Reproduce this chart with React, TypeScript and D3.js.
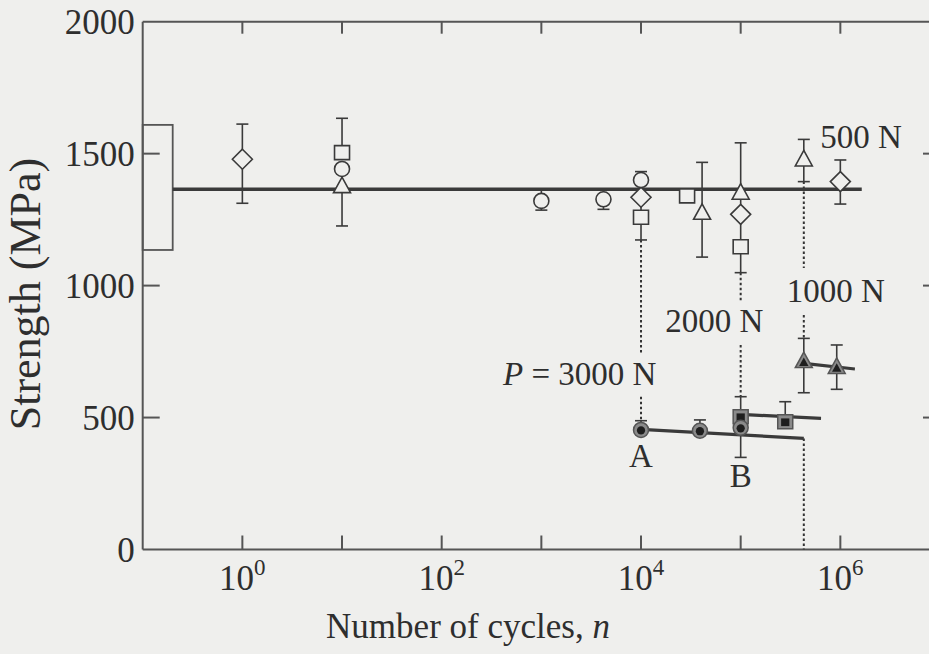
import React from "react";
import * as d3 from "d3";

// ---- data ----
const xTickExps = [0, 1, 2, 3, 4, 5, 6];
const xLabelExps = [0, 2, 4, 6];
const yTicks = [0, 500, 1000, 1500, 2000];

type P = { n: number; v: number; lo?: number; hi?: number };

const openDiamonds: P[] = [
  { n: 1, v: 1479, lo: 1312, hi: 1612 },
  { n: 1e4, v: 1335 },
  { n: 1e5, v: 1270 },
  { n: 1e6, v: 1394, lo: 1309, hi: 1476 },
];
const openSquares: P[] = [
  { n: 10, v: 1504, hi: 1634 },
  { n: 1e4, v: 1259, lo: 1173, hi: 1335 },
  { n: 2.9e4, v: 1340 },
  { n: 1e5, v: 1147, lo: 1049 },
];
const openCircles: P[] = [
  { n: 10, v: 1442 },
  { n: 1000, v: 1321, lo: 1286, hi: 1362 },
  { n: 4.2e3, v: 1327, lo: 1289, hi: 1362 },
  { n: 1e4, v: 1400, hi: 1432 },
];
const openTriangles: P[] = [
  { n: 10, v: 1375, lo: 1226 },
  { n: 4.1e4, v: 1274, lo: 1108, hi: 1467 },
  { n: 1e5, v: 1350, lo: 1160, hi: 1541 },
  { n: 4.3e5, v: 1476, lo: 1394, hi: 1554 },
];

const filledCircles: P[] = [
  { n: 1e4, v: 453, hi: 488 },
  { n: 3.9e4, v: 450, hi: 491 },
  { n: 1e5, v: 461, lo: 349 },
];
const filledSquares: P[] = [
  { n: 1e5, v: 503, hi: 579 },
  { n: 2.8e5, v: 484, hi: 560 },
];
const filledTriangles: P[] = [
  { n: 4.3e5, v: 712, lo: 594, hi: 800 },
  { n: 9.2e5, v: 690, lo: 607, hi: 775 },
];

const fit500 = [{ n: 0.2, v: 1365 }, { n: 1.64e6, v: 1365 }];
const fit3000 = [{ n: 1e4, v: 455 }, { n: 4.3e5, v: 421 }];
const fit2000 = [{ n: 1e5, v: 512 }, { n: 6.4e5, v: 497 }];
const fit1000 = [{ n: 4.3e5, v: 705 }, { n: 1.4e6, v: 684 }];

const staticBand = { n0: 0.1, n1: 0.2, lo: 1135, hi: 1609 };

const dotted = [
  { n: 1e4, from: 1173, to: 745 },
  { n: 1e4, from: 579, to: 490 },
  { n: 1e5, from: 1049, to: 939 },
  { n: 1e5, from: 775, to: 582 },
  { n: 4.3e5, from: 1394, to: 1067 },
  { n: 4.3e5, from: 889, to: 801 },
  { n: 4.3e5, from: 421, to: 0 },
];

const loadLabels = [
  { text: "500 N", n: 6.3e5, v: 1521 },
  { text: "1000 N", n: 2.9e5, v: 939 },
  { text: "2000 N", n: 1.75e4, v: 825 },
];

// ---- layout ----
const W = 929;
const H = 654;
const BG = "#efefed";
const INK = "#3a3a3a";
const FONT = "'Liberation Serif', 'Times New Roman', serif";

const x = d3.scaleLog().domain([0.1, 1e7]).range([142.7, 940]);
const y = d3.scaleLinear().domain([0, 2000]).range([549.5, 21.7]);

function ErrBar({ p }: { p: P }) {
  const cx = x(p.n);
  const segs: JSX.Element[] = [];
  const cap = 6;
  if (p.hi !== undefined) {
    segs.push(<line key="h" x1={cx} x2={cx} y1={y(p.v)} y2={y(p.hi)} />);
    segs.push(<line key="hc" x1={cx - cap} x2={cx + cap} y1={y(p.hi)} y2={y(p.hi)} />);
  }
  if (p.lo !== undefined) {
    segs.push(<line key="l" x1={cx} x2={cx} y1={y(p.v)} y2={y(p.lo)} />);
    segs.push(<line key="lc" x1={cx - cap} x2={cx + cap} y1={y(p.lo)} y2={y(p.lo)} />);
  }
  return <g stroke={INK} strokeWidth={1.6}>{segs}</g>;
}

function shapePath(kind: string, cx: number, cy: number, s: number) {
  const p = d3.path();
  if (kind === "diamond") {
    p.moveTo(cx, cy - 10 * s);
    p.lineTo(cx + 10 * s, cy);
    p.lineTo(cx, cy + 10 * s);
    p.lineTo(cx - 10 * s, cy);
    p.closePath();
  } else if (kind === "square") {
    p.rect(cx - 7.5 * s, cy - 7 * s, 15 * s, 14 * s);
  } else if (kind === "circle") {
    p.moveTo(cx + 7.5 * s, cy);
    p.arc(cx, cy, 7.5 * s, 0, Math.PI * 2);
  } else {
    p.moveTo(cx, cy - 9.5 * s);
    p.lineTo(cx + 8.5 * s, cy + 6 * s);
    p.lineTo(cx - 8.5 * s, cy + 6 * s);
    p.closePath();
  }
  return p.toString();
}

function OpenMarker({ p, kind }: { p: P; kind: string }) {
  return <path d={shapePath(kind, x(p.n), y(p.v), 1)} fill={BG} stroke={INK} strokeWidth={1.6} />;
}

function FilledMarker({ p, kind }: { p: P; kind: string }) {
  const cx = x(p.n);
  const cy = y(p.v);
  return (
    <g>
      <path d={shapePath(kind, cx, cy, 1)} fill="#8a8a8a" stroke="#555" strokeWidth={1.5} />
      <path d={shapePath(kind, cx, cy + (kind === "triangle" ? 1 : 0.5), 0.55)} fill="#1e1e1e" />
    </g>
  );
}

const line = d3
  .line<{ n: number; v: number }>()
  .x((d) => x(d.n))
  .y((d) => y(d.v));

export default function App() {
  const tickLen = 14;
  return (
    <svg
      width={W}
      height={H}
      style={{ position: "fixed", left: 0, top: 0, display: "block" }}
      fontFamily={FONT}
    >
      <rect x={0} y={0} width={W} height={H} fill={BG} />

      {/* frame */}
      <g stroke="#555" strokeWidth={2} fill="none">
        <line x1={x(0.1)} x2={x(1e7)} y1={y(2000)} y2={y(2000)} />
        <line x1={x(0.1)} x2={x(1e7)} y1={y(0)} y2={y(0)} />
        <line x1={x(0.1)} x2={x(0.1)} y1={y(0)} y2={y(2000)} />
        <line x1={x(1e7)} x2={x(1e7)} y1={y(0)} y2={y(2000)} />
        {xTickExps.map((e) => (
          <g key={e}>
            <line x1={x(10 ** e)} x2={x(10 ** e)} y1={y(0)} y2={y(0) - tickLen} />
            <line x1={x(10 ** e)} x2={x(10 ** e)} y1={y(2000)} y2={y(2000) + 12} />
          </g>
        ))}
        {yTicks
          .filter((t) => t > 0 && t < 2000)
          .map((t) => (
            <g key={t}>
              <line x1={x(0.1)} x2={x(0.1) + 17} y1={y(t)} y2={y(t)} />
              <line x1={x(1e7)} x2={x(1e7) - 17} y1={y(t)} y2={y(t)} />
            </g>
          ))}
      </g>

      {/* tick labels */}
      <g fill="#2e2e2e" fontSize={35}>
        {yTicks.map((t) => (
          <text key={t} x={x(0.1) - 8} y={y(t)} dy="0.36em" textAnchor="end">
            {t}
          </text>
        ))}
        {xLabelExps.map((e) => (
          <text key={e} x={x(10 ** e)} y={590} textAnchor="middle">
            10
            <tspan dy={-15} fontSize={23}>
              {e}
            </tspan>
          </text>
        ))}
      </g>

      {/* axis titles */}
      <text x={468} y={638} textAnchor="middle" fontSize={35} fill="#2e2e2e">
        Number of cycles, <tspan fontStyle="italic">n</tspan>
      </text>
      <text
        transform={`translate(40, 294) rotate(-90)`}
        textAnchor="middle"
        fontSize={44}
        fill="#2e2e2e"
      >
        Strength (MPa)
      </text>

      {/* static strength band */}
      <rect
        x={x(staticBand.n0)}
        width={x(staticBand.n1) - x(staticBand.n0)}
        y={y(staticBand.hi)}
        height={y(staticBand.lo) - y(staticBand.hi)}
        fill="none"
        stroke="#555"
        strokeWidth={1.8}
      />

      {/* dotted lines */}
      <g stroke="#333" strokeWidth={2} strokeDasharray="2.5,2.5">
        {dotted.map((d, i) => (
          <line key={i} x1={x(d.n)} x2={x(d.n)} y1={y(d.from)} y2={y(d.to)} />
        ))}
      </g>

      {/* fit lines */}
      <path d={line(fit500) || ""} stroke="#3a3a3a" strokeWidth={3.6} fill="none" />
      <path d={line(fit3000) || ""} stroke="#3a3a3a" strokeWidth={3.2} fill="none" />
      <path d={line(fit2000) || ""} stroke="#3a3a3a" strokeWidth={3.2} fill="none" />
      <path d={line(fit1000) || ""} stroke="#3a3a3a" strokeWidth={3.2} fill="none" />

      {/* error bars */}
      {[...openDiamonds, ...openSquares, ...openCircles, ...openTriangles, ...filledCircles, ...filledSquares, ...filledTriangles].map(
        (p, i) => (
          <ErrBar key={i} p={p} />
        )
      )}

      {/* markers */}
      {openDiamonds.map((p, i) => (
        <OpenMarker key={"d" + i} p={p} kind="diamond" />
      ))}
      {openSquares.map((p, i) => (
        <OpenMarker key={"s" + i} p={p} kind="square" />
      ))}
      {openCircles.map((p, i) => (
        <OpenMarker key={"c" + i} p={p} kind="circle" />
      ))}
      {openTriangles.map((p, i) => (
        <OpenMarker key={"t" + i} p={p} kind="triangle" />
      ))}
      {filledSquares.map((p, i) => (
        <FilledMarker key={"fs" + i} p={p} kind="square" />
      ))}
      {filledCircles.map((p, i) => (
        <FilledMarker key={"fc" + i} p={p} kind="circle" />
      ))}
      {filledTriangles.map((p, i) => (
        <FilledMarker key={"ft" + i} p={p} kind="triangle" />
      ))}

      {/* load labels */}
      <g fontSize={33} fill="#2e2e2e">
        {loadLabels.map((l) => (
          <text key={l.text} x={x(l.n)} y={y(l.v)}>
            {l.text}
          </text>
        ))}
        <text x={503} y={385}>
          <tspan fontStyle="italic">P</tspan> = 3000 N
        </text>
        <text x={x(1e4)} y={467} textAnchor="middle">
          A
        </text>
        <text x={x(1e5)} y={487} textAnchor="middle">
          B
        </text>
      </g>
    </svg>
  );
}
